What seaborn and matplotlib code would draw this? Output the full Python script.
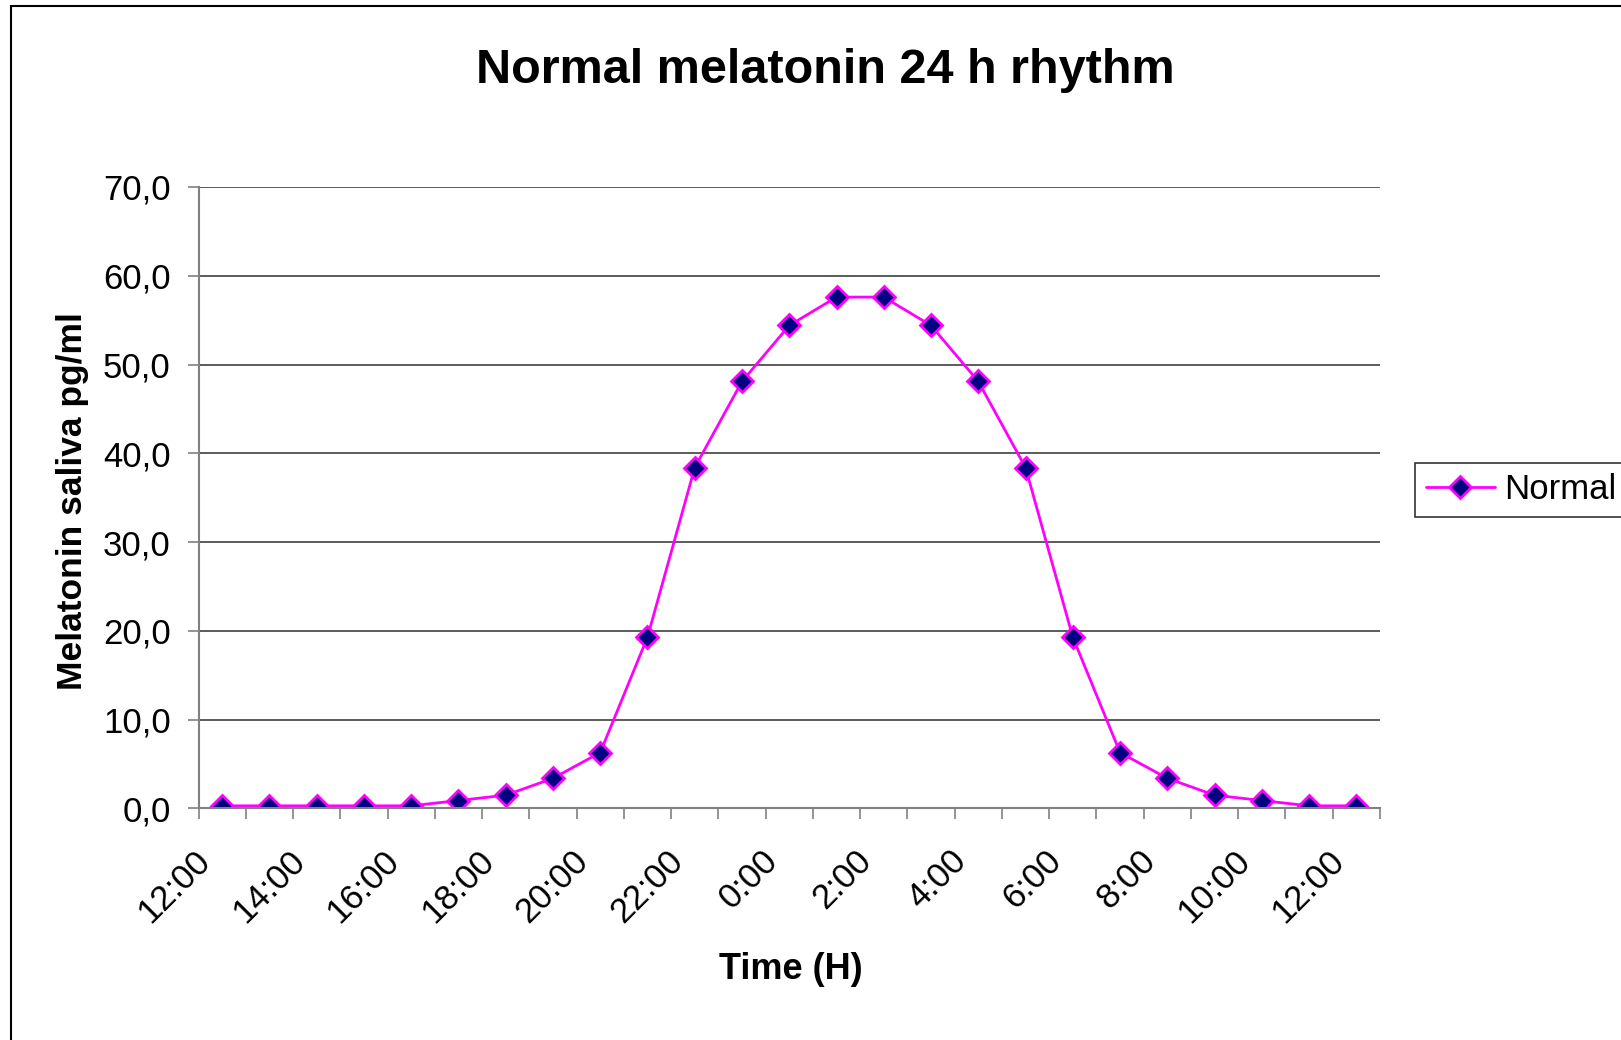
import pandas as pd
import matplotlib
matplotlib.use('Agg')
import matplotlib.pyplot as plt
import matplotlib.transforms as mtransforms
import seaborn as sns
from matplotlib.patches import Rectangle
from matplotlib.lines import Line2D
from matplotlib.ticker import FuncFormatter, FixedLocator

# data
hours = ['12:00', '13:00', '14:00', '15:00', '16:00', '17:00', '18:00', '19:00',
         '20:00', '21:00', '22:00', '23:00', '0:00', '1:00', '2:00', '3:00',
         '4:00', '5:00', '6:00', '7:00', '8:00', '9:00', '10:00', '11:00', '12:00']
melatonin = [0.3, 0.3, 0.3, 0.3, 0.3, 0.9, 1.5, 3.4, 6.3, 19.3, 38.4, 48.1, 54.4,
             57.6, 57.6, 54.4, 48.1, 38.4, 19.3, 6.3, 3.4, 1.5, 0.9, 0.3, 0.3]
y_ticks = [0, 10, 20, 30, 40, 50, 60, 70]

df = pd.DataFrame({'pos': range(len(hours)), 'time': hours, 'value': melatonin})

sns.set_style('white')
plt.rcParams['font.family'] = ['Liberation Sans', 'DejaVu Sans']
plt.rcParams['text.color'] = 'black'
plt.rcParams['xtick.labelcolor'] = 'black'
plt.rcParams['ytick.labelcolor'] = 'black'

fig = plt.figure(figsize=(16.21, 10.40), dpi=100)
ax = fig.add_axes([0.1225, 0.2226, 0.7288, 0.5976])

sns.lineplot(data=df, x='pos', y='value', ax=ax, color='#FF00FF', linewidth=2,
             marker='D', markersize=11, markerfacecolor='#000080',
             markeredgecolor='#FF00FF', markeredgewidth=2)

ax.set_xlim(-0.5, len(hours) - 0.5)
ax.set_ylim(0, 70)
ax.set_yticks(y_ticks)
ax.yaxis.set_major_formatter(FuncFormatter(lambda v, p: f'{v:.1f}'.replace('.', ',')))
ax.yaxis.grid(True, color='#404040', linewidth=1.2)
ax.set_axisbelow(True)

# category boundaries as tick marks, labels every 2 hours
ax.xaxis.set_minor_locator(FixedLocator([i - 0.5 for i in range(len(hours) + 1)]))
ax.set_xticks(range(0, len(hours), 2))
ax.set_xticklabels(hours[::2], rotation=45, ha='right', va='center',
                   rotation_mode='anchor')
ax.tick_params(axis='x', which='major', length=0, pad=34, labelsize=25)
ax.tick_params(axis='x', which='minor', length=8, width=1.2, color='#808080',
               direction='out', bottom=True)
ax.tick_params(axis='y', length=8, width=1.2, color='#808080', direction='out',
               left=True, pad=12, labelsize=25)
# nudge rotated labels left, as in the original
shift = mtransforms.ScaledTranslation(-17 / 100, 0, fig.dpi_scale_trans)
for tick in ax.xaxis.get_major_ticks():
    tick.label1.set_transform(tick.label1.get_transform() + shift)

for s in ['top', 'right']:
    ax.spines[s].set_visible(False)
for s in ['left', 'bottom']:
    ax.spines[s].set_color('#808080')
    ax.spines[s].set_linewidth(1.5)

ax.set_xlabel('')
ax.set_ylabel('')

fig.text(0.509, 0.932, 'Normal melatonin 24 h rhythm', ha='center', va='center',
         fontsize=35, fontweight='bold')
fig.text(0.488, 0.068, 'Time (H)', ha='center', va='center',
         fontsize=26, fontweight='bold')
fig.text(0.045, 0.518, 'Melatonin saliva pg/ml', ha='center', va='center',
         rotation=90, fontsize=25.5, fontweight='bold')

handle = Line2D([], [], color='#FF00FF', linewidth=2, marker='D', markersize=11,
                markerfacecolor='#000080', markeredgecolor='#FF00FF',
                markeredgewidth=2)
leg = fig.legend([handle], ['Normal'], loc='center left',
                 bbox_to_anchor=(0.873, 0.529), fontsize=25, frameon=True,
                 fancybox=False, handlelength=2.0, borderpad=0.3,
                 handletextpad=0.25, borderaxespad=0)
leg.get_frame().set_edgecolor('black')
leg.get_frame().set_linewidth(1.2)

fig.patches.append(Rectangle((11 / 1621, -0.1), 1.2, 1.1 - 6 / 1040,
                             transform=fig.transFigure, fill=False,
                             edgecolor='black', linewidth=1.5))

fig.savefig('out.png', dpi=100)
